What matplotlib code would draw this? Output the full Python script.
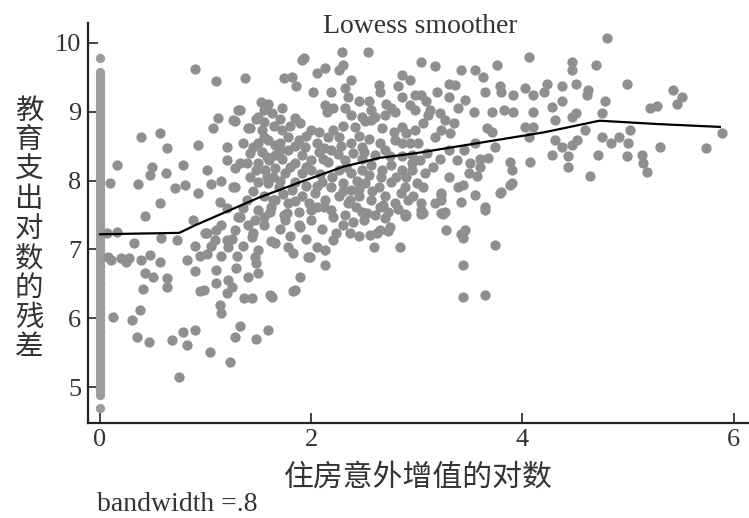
import matplotlib
matplotlib.use("Agg")
import matplotlib.pyplot as plt

# residuals stacked at x = 0 (no housing gain), a near-solid column
strip_y = [9.78,
           9.58, 9.53, 9.48, 9.43, 9.38, 9.33, 9.28, 9.23, 9.18, 9.13, 9.08, 9.03,
           8.98, 8.93, 8.88, 8.83, 8.78, 8.73, 8.68, 8.63, 8.58, 8.53, 8.48, 8.43,
           8.38, 8.33, 8.28, 8.23, 8.18, 8.13, 8.08, 8.03, 7.98, 7.93, 7.88, 7.83,
           7.78, 7.73, 7.68, 7.63, 7.58, 7.53, 7.48, 7.43, 7.38, 7.33, 7.28, 7.23,
           7.18, 7.13, 7.08, 7.03, 6.98, 6.93, 6.88, 6.83, 6.78, 6.73, 6.68, 6.63,
           6.58, 6.53, 6.48, 6.43, 6.38, 6.33, 6.28, 6.23, 6.18, 6.13, 6.08, 6.03,
           5.98, 5.93, 5.88, 5.83, 5.78, 5.73, 5.68, 5.63, 5.58, 5.53, 5.48, 5.43,
           5.38, 5.33, 5.28, 5.23, 5.18, 5.13, 5.08, 5.03, 4.98, 4.93, 4.88,
           4.69]

# scatter cloud (x, y)
pts_left = [
    (0.90, 9.62), (1.10, 9.44), (1.37, 9.49), (1.31, 9.03), (1.12, 8.91), (1.07, 8.76),
    (1.28, 8.86), (1.42, 8.76), (0.39, 8.64), (0.57, 8.69), (0.63, 8.47), (0.93, 8.52),
    (1.20, 8.49), (0.16, 8.23), (0.49, 8.20), (0.47, 8.08), (0.62, 8.11), (0.79, 8.23),
    (1.01, 8.15), (1.28, 8.18), (1.39, 8.25), (0.095, 7.96), (0.36, 7.95), (0.71, 7.89),
    (0.80, 7.94), (0.93, 7.82), (1.28, 7.91), (0.57, 7.67), (1.14, 7.69), (0.43, 7.48),
    (0.88, 7.43), (1.33, 9.03), (1.26, 8.88), (1.40, 8.76), (1.48, 8.90), (1.33, 8.25),
    (1.45, 8.49), (1.55, 8.64), (1.58, 8.34), (1.48, 8.15), (1.64, 8.05), (1.26, 7.91),
    (1.39, 7.72), (1.33, 7.47), (1.10, 7.28), (1.01, 7.24), (1.20, 7.14), (1.45, 7.24),
    (1.55, 7.47), (1.64, 7.72), (0.07, 7.24), (0.16, 7.25), (0.10, 6.85), (0.20, 6.88),
    (0.25, 6.82), (1.42, 8.40), (1.42, 8.05), (1.35, 8.55), (1.20, 8.30), (1.15, 8.00),
    (1.05, 7.95), (1.35, 7.60), (1.20, 7.60), (1.45, 7.85),
]

pts_low = [
    (0.32, 7.09), (0.58, 7.16), (0.73, 7.14), (0.08, 6.89), (0.27, 6.87), (0.39, 6.85),
    (0.47, 6.92), (0.57, 6.82), (0.82, 6.85), (0.43, 6.65), (0.50, 6.60), (0.63, 6.58),
    (0.41, 6.43), (0.63, 6.46), (0.90, 6.68), (1.01, 6.94), (0.98, 6.41), (1.10, 6.51),
    (1.21, 6.56), (1.20, 6.36), (1.29, 6.73), (1.36, 6.29), (1.44, 6.29), (1.14, 6.19),
    (1.15, 6.07), (0.38, 6.12), (0.12, 6.02), (0.30, 5.97), (0.35, 5.73), (0.46, 5.66),
    (0.68, 5.68), (0.79, 5.80), (0.90, 5.83), (0.82, 5.61), (1.04, 5.51), (1.33, 5.88),
    (1.28, 5.73), (1.23, 5.37), (1.48, 5.70), (0.75, 5.15), (1.59, 5.83), (0.95, 6.39),
    (0.99, 7.24), (1.09, 7.14), (1.21, 7.04), (1.28, 7.28), (1.44, 7.18), (1.47, 6.89),
    (1.50, 6.66), (1.31, 7.47), (1.47, 7.43), (1.48, 6.80), (1.83, 6.39), (1.89, 6.60),
    (1.63, 6.31), (2.13, 6.77), (1.99, 6.89), (1.88, 7.35), (1.85, 6.41), (1.61, 6.34),
    (2.56, 7.21), (2.73, 7.26), (2.84, 7.04), (2.40, 7.40), (2.90, 7.50), (2.23, 7.24),
    (2.13, 6.99), (1.97, 6.89), (1.78, 7.04), (1.66, 7.09), (1.50, 6.99), (1.55, 7.35),
    (1.70, 7.30), (1.80, 7.20), (1.95, 7.15), (2.10, 7.30), (2.30, 7.35), (2.45, 7.20),
    (2.50, 7.42), (2.70, 7.45), (1.62, 7.12), (1.75, 7.42), (2.00, 7.42), (1.77, 7.53),
    (1.89, 7.33), (2.05, 7.62), (2.21, 7.47), (2.37, 7.72), (2.53, 7.53), (2.37, 7.24),
    (2.21, 7.14), (2.05, 7.04), (1.83, 6.95), (2.59, 7.04), (2.65, 7.28), (2.65, 7.62),
    (2.75, 7.33), (2.62, 7.24), (1.05, 7.05), (1.15, 7.35), (1.25, 7.15), (1.35, 7.05),
    (1.40, 7.35), (1.30, 6.90), (1.15, 6.90), (1.40, 6.60), (1.25, 6.45), (1.10, 6.70),
    (0.95, 6.90), (0.90, 7.05),
]

pts_core = [
    (1.93, 9.78), (2.29, 9.87), (2.54, 9.87), (1.74, 9.49), (1.82, 9.51), (1.86, 9.37),
    (2.05, 9.56), (2.13, 9.63), (2.26, 9.61), (2.30, 9.68), (2.38, 9.46), (2.02, 9.29),
    (2.19, 9.29), (2.32, 9.34), (2.35, 9.22), (2.64, 9.39), (2.65, 9.29), (2.86, 9.53),
    (2.94, 9.46), (2.82, 9.37), (2.86, 9.22), (2.98, 9.24), (1.59, 9.12), (1.55, 9.03),
    (1.63, 8.98), (1.50, 8.93), (2.13, 9.10), (2.15, 9.00), (2.21, 9.05), (2.32, 9.05),
    (2.38, 8.95), (2.48, 8.93), (2.57, 9.03), (2.60, 8.93), (2.71, 9.12), (2.76, 9.05),
    (2.79, 9.00), (2.94, 9.10), (2.98, 9.03), (1.85, 8.91), (1.89, 8.83), (1.72, 8.74),
    (1.78, 8.64), (1.88, 8.59), (1.53, 8.74), (1.59, 8.59), (1.50, 8.54), (2.00, 8.74),
    (2.07, 8.71), (2.16, 8.64), (2.21, 8.74), (2.26, 8.64), (2.41, 8.78), (2.51, 8.86),
    (2.57, 8.88), (2.67, 8.76), (2.78, 8.71), (2.86, 8.78), (2.90, 8.69), (2.98, 8.74),
    (2.79, 8.59), (2.86, 8.54), (2.94, 8.54), (2.38, 8.54), (2.48, 8.49), (2.19, 8.44),
    (2.07, 8.42), (2.11, 8.32), (2.16, 8.27), (2.32, 8.30), (2.48, 8.32), (2.60, 8.37),
    (1.66, 8.52), (1.53, 8.42), (1.66, 8.37), (1.72, 8.32), (1.78, 8.44), (1.91, 8.37),
    (1.94, 8.49), (1.85, 8.25), (1.50, 8.25), (1.56, 8.15), (1.66, 8.18), (1.75, 8.11),
    (1.91, 8.11), (2.00, 8.15), (1.50, 7.98), (1.59, 7.96), (1.69, 7.91), (1.82, 7.86),
    (1.55, 7.77), (1.66, 7.72), (1.78, 7.67), (1.91, 7.77), (1.50, 7.57), (1.61, 7.55),
    (1.74, 7.50), (1.88, 7.55), (2.26, 8.15), (2.38, 8.11), (2.48, 8.15), (2.57, 8.23),
    (2.67, 8.15), (2.76, 8.23), (2.86, 8.15), (2.95, 8.25), (2.86, 8.35), (2.95, 8.37),
    (2.10, 7.98), (2.19, 7.91), (2.30, 7.96), (2.38, 7.86), (2.51, 7.96), (2.64, 7.91),
    (2.76, 7.98), (2.89, 7.91), (3.00, 7.96), (2.04, 7.82), (2.13, 7.72), (2.26, 7.77),
    (2.35, 7.67), (2.45, 7.77), (2.57, 7.72), (2.70, 7.77), (2.79, 7.67), (2.92, 7.72),
    (2.00, 7.57), (2.19, 7.57), (2.32, 7.50), (2.48, 7.55), (2.60, 7.50), (2.73, 7.55),
    (2.89, 7.52), (1.91, 9.75), (1.52, 9.14),
]

# the densest part of the core, between the dots listed above
pts_fill = [
    (1.55, 8.85), (1.65, 8.80), (1.70, 8.55), (1.80, 8.80), (1.95, 8.65), (2.05, 8.55),
    (2.12, 8.48), (2.28, 8.50), (2.30, 8.80), (2.45, 8.65), (2.55, 8.60), (2.65, 8.55),
    (2.70, 8.45), (2.75, 8.35), (2.50, 8.42), (2.40, 8.40), (2.25, 8.38), (2.00, 8.30),
    (1.85, 8.50), (1.70, 8.45), (1.60, 8.30), (1.58, 8.05), (1.70, 8.00), (1.80, 8.20),
    (1.95, 8.20), (2.08, 8.10), (2.20, 8.05), (2.33, 8.20), (2.43, 8.00), (2.55, 8.08),
    (2.66, 8.05), (2.80, 8.05), (2.90, 8.05), (2.95, 8.15), (1.85, 7.98), (1.95, 7.92),
    (2.05, 7.92), (2.30, 7.85), (2.45, 7.88), (2.58, 7.85), (2.85, 7.82), (1.73, 7.80),
    (1.62, 7.62), (1.85, 7.70), (1.98, 7.68), (2.12, 7.62), (2.42, 7.62), (2.68, 7.65),
    (2.82, 7.58), (3.10, 8.40), (3.15, 8.20), (3.30, 8.05), (3.30, 8.45), (3.45, 8.45),
    (3.12, 9.02), (3.22, 8.98), (2.70, 8.95), (2.45, 9.15), (2.55, 9.15), (1.72, 9.05),
    (1.70, 8.90),
]

pts_right = [
    (3.04, 9.73), (3.17, 9.66), (3.42, 9.61), (3.55, 9.61), (3.63, 9.51), (3.76, 9.68),
    (4.06, 9.80), (4.47, 9.73), (4.47, 9.61), (3.30, 9.41), (3.36, 9.39), (3.19, 9.29),
    (3.30, 9.22), (3.04, 9.24), (3.09, 9.15), (3.65, 9.29), (3.79, 9.37), (3.80, 9.29),
    (3.91, 9.24), (4.02, 9.34), (4.10, 9.24), (4.20, 9.29), (4.23, 9.41), (4.37, 9.37),
    (3.46, 9.17), (3.39, 9.05), (3.54, 9.00), (3.71, 9.00), (3.83, 9.03), (3.91, 9.00),
    (4.10, 9.00), (4.28, 9.07), (4.37, 9.15), (4.47, 8.93), (4.31, 8.88), (3.11, 8.95),
    (3.06, 8.83), (3.27, 8.88), (3.35, 8.83), (3.23, 8.74), (3.31, 8.69), (3.17, 8.64),
    (3.66, 8.76), (3.71, 8.71), (4.02, 8.78), (4.10, 8.78), (4.06, 8.64), (3.01, 8.54),
    (3.55, 8.54), (3.74, 8.49), (4.31, 8.59), (4.37, 8.49), (4.47, 8.52), (3.03, 8.30),
    (3.22, 8.32), (3.38, 8.30), (3.50, 8.25), (3.60, 8.32), (3.60, 8.20), (3.67, 8.33),
    (3.88, 8.27), (3.90, 8.15), (4.07, 8.27), (4.28, 8.37), (4.43, 8.35), (4.43, 8.20),
    (3.08, 8.11), (3.49, 8.11), (3.57, 8.06), (3.90, 7.96), (3.06, 7.91), (3.39, 7.91),
    (3.44, 7.94), (3.79, 7.82), (3.23, 7.79), (3.55, 7.79), (3.17, 7.67), (3.42, 7.69),
    (3.65, 7.62), (3.27, 7.55), (3.04, 7.67), (3.23, 7.82), (3.23, 7.72), (3.25, 7.52),
    (3.80, 7.84), (3.88, 7.94), (3.28, 7.28), (3.42, 7.23), (3.44, 7.16), (3.04, 7.52),
    (2.96, 7.77), (3.06, 7.53), (2.89, 7.48), (3.23, 7.53), (3.46, 7.28), (3.74, 7.06),
    (3.44, 6.77), (3.44, 6.31), (3.65, 6.34), (3.04, 7.57), (3.65, 7.57),
    (4.80, 10.07), (4.70, 9.68), (4.51, 9.41), (4.62, 9.32), (4.61, 9.24), (4.99, 9.41),
    (4.78, 9.15), (4.75, 8.98), (5.43, 9.32), (5.51, 9.22), (5.46, 9.12), (5.21, 9.05),
    (5.27, 9.08), (4.51, 8.98), (4.59, 8.74), (4.52, 8.59), (4.75, 8.64), (5.02, 8.74),
    (4.91, 8.64), (4.84, 8.54), (5.00, 8.54), (5.30, 8.49), (5.89, 8.69), (5.74, 8.47),
    (4.72, 8.37), (4.99, 8.36), (5.13, 8.37), (5.14, 8.25), (5.18, 8.13), (4.64, 8.06),
]

# lowess fit, bandwidth .8
lowess_x = [0.0, 0.75, 0.9, 1.2, 1.5, 1.9, 2.3, 2.65, 3.0, 3.6, 4.2, 4.73, 5.3, 5.87]
lowess_y = [7.22, 7.24, 7.35, 7.55, 7.75, 7.98, 8.2, 8.33, 8.4, 8.55, 8.7, 8.87, 8.82, 8.78]

x_ticks = [0, 2, 4, 6]
y_ticks = [5, 6, 7, 8, 9, 10]

SERIF = "Liberation Serif"
CJK = ["Noto Sans CJK SC", "DejaVu Sans"]
DOT = "#8f8f8f"
STRIP = "#9c9c9c"
INK = "#333333"

cloud = pts_left + pts_low + pts_core + pts_fill + pts_right
cx = [p[0] for p in cloud]
cy = [p[1] for p in cloud]

fig = plt.figure(figsize=(7.49, 5.18), dpi=100)
ax = fig.add_axes([88 / 749, 1 - 423 / 518, 662 / 749, 400 / 518])

ax.scatter([0.0] * len(strip_y), strip_y, s=45, color=STRIP, linewidths=0, zorder=2)
ax.scatter(cx, cy, s=55, color=DOT, linewidths=0, zorder=2)
ax.plot(lowess_x, lowess_y, color="black", lw=1.6, zorder=3)

ax.set_xlim(-0.114, 6.155)
ax.set_ylim(4.477, 10.29)
ax.set_xticks(x_ticks)
ax.set_yticks(y_ticks)
for s in ["top", "right"]:
    ax.spines[s].set_visible(False)
for s in ["left", "bottom"]:
    ax.spines[s].set_linewidth(1.6)
    ax.spines[s].set_color("#222222")
ax.tick_params(direction="in", length=7, width=1.2, color="#222222",
               labelsize=19, labelcolor=INK)
ax.tick_params(axis="y", pad=5)
ax.tick_params(axis="x", pad=4)
for lab in ax.get_xticklabels() + ax.get_yticklabels():
    lab.set_family(SERIF)

fig.text(420 / 749, 1 - 33 / 518, "Lowess smoother", family=SERIF, fontsize=20,
         ha="center", va="baseline", color=INK)
fig.text(418 / 749, 1 - 477 / 518, "住房意外增值的对数", family=CJK, fontsize=21.5,
         ha="center", va="center", color=INK)
fig.text(29 / 749, 1 - 229 / 518, "\n".join("教育支出对数的残差"), family=CJK,
         fontsize=20.5, ha="center", va="center", linespacing=0.98, color=INK)
fig.text(97 / 749, 1 - 511 / 518, "bandwidth =.8", family=SERIF, fontsize=20,
         ha="left", va="baseline", color=INK)

fig.savefig("out.png", dpi=100)
